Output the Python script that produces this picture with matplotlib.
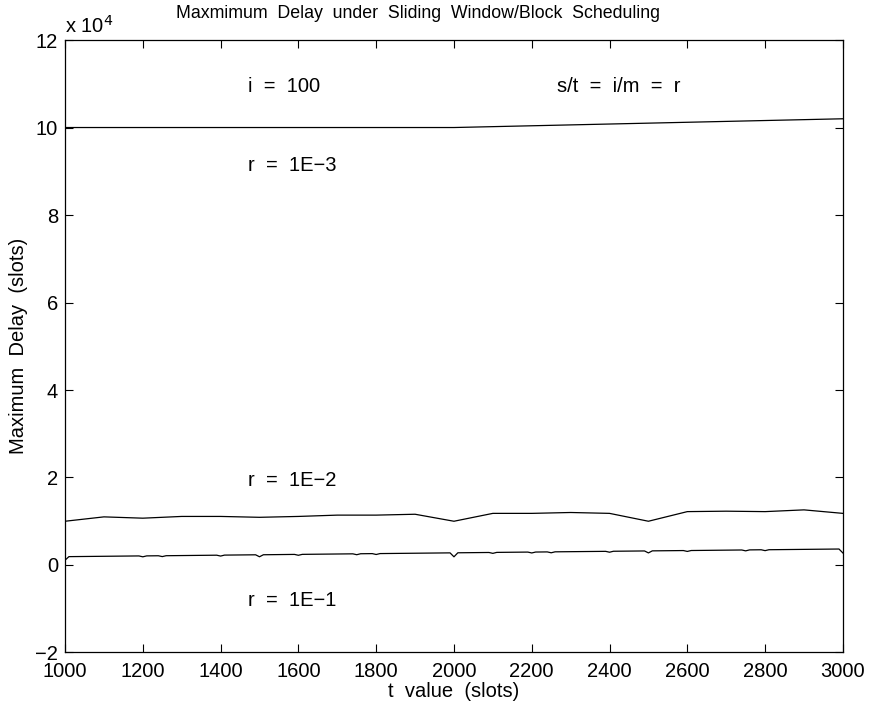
import matplotlib
matplotlib.use("Agg")
import matplotlib.pyplot as plt
from matplotlib.ticker import FuncFormatter, MultipleLocator

plt.rcParams["font.family"] = ["Liberation Sans", "DejaVu Sans"]

# r = 1E-3 : flat to t = 2000, then a slow rise
t_r3 = [1000, 1100, 1200, 1300, 1400, 1500, 1600, 1700, 1800, 1900, 2000,
        2100, 2200, 2300, 2400, 2500, 2600, 2700, 2800, 2900, 3000]
d_r3 = [100000, 100000, 100000, 100000, 100000, 100000, 100000, 100000, 100000, 100000, 100000,
        100200, 100400, 100600, 100800, 101000, 101200, 101400, 101600, 101800, 102000]

# r = 1E-2
t_r2 = [1000, 1100, 1200, 1300, 1400, 1500, 1600, 1700, 1800, 1900, 2000,
        2100, 2200, 2300, 2400, 2500, 2600, 2700, 2800, 2900, 3000]
d_r2 = [10000, 11000, 10700, 11100, 11100, 10900, 11100, 11400, 11400, 11600, 10000,
        11800, 11800, 12000, 11800, 10000, 12200, 12300, 12200, 12600, 11800]

# r = 1E-1 (small dips where the schedule realigns)
t_r1 = [1000, 1010, 1190, 1200, 1210, 1240, 1250, 1260, 1390, 1400, 1410,
        1490, 1500, 1510, 1590, 1600, 1610, 1740, 1750, 1760, 1790, 1800, 1810,
        1990, 2000, 2010, 2090, 2100, 2110, 2190, 2200, 2210, 2240, 2250, 2260,
        2390, 2400, 2410, 2490, 2500, 2510, 2590, 2600, 2610, 2740, 2750, 2760,
        2790, 2800, 2810, 2990, 3000]
d_r1 = [1100, 1910, 2070, 1870, 2080, 2110, 1920, 2120, 2240, 2040, 2260,
        2330, 1880, 2340, 2420, 2220, 2430, 2550, 2350, 2570, 2600, 2400, 2610,
        2770, 1870, 2790, 2860, 2660, 2880, 2950, 2750, 2960, 2990, 2790, 3010,
        3120, 2920, 3140, 3210, 2760, 3230, 3300, 3100, 3310, 3430, 3230, 3450,
        3480, 3280, 3490, 3650, 2750]

fs = 14.5

fig = plt.figure(figsize=(8.73, 7.11), dpi=100)
ax = fig.add_axes([0.0745, 0.0823, 0.891, 0.8614])

for t, d in [(t_r3, d_r3), (t_r2, d_r2), (t_r1, d_r1)]:
    ax.plot(t, d, color="black", linewidth=0.9)

ax.set_xlim(1000, 3000)
ax.set_ylim(-20000, 120000)
ax.xaxis.set_major_locator(MultipleLocator(200))
ax.yaxis.set_major_locator(MultipleLocator(20000))
ax.yaxis.set_major_formatter(FuncFormatter(lambda v, p: f"{v / 1e4:g}".replace("-", "\u2212")))
ax.tick_params(direction="in", top=True, right=True, labelsize=fs, length=5.5, width=0.8)
ax.tick_params(axis="x", pad=6.5)
ax.tick_params(axis="y", pad=5)
for s in ax.spines.values():
    s.set_linewidth(0.9)

ax.set_xlabel("t  value  (slots)", fontsize=fs, labelpad=1)
ax.set_ylabel("Maximum  Delay  (slots)", fontsize=fs, labelpad=5)
ax.text(0.0, 1.006, "x 10$^4$", transform=ax.transAxes, fontsize=fs, ha="left", va="bottom")
fig.text(418 / 873, 1 - 14 / 711, "Maxmimum  Delay  under  Sliding  Window/Block  Scheduling",
         fontsize=12.8, ha="center", va="center")

ax.text(1470, 109400, "i  =  100", fontsize=fs, va="center")
ax.text(2265, 109400, "s/t  =  i/m  =  r", fontsize=fs, va="center")
ax.text(1470, 91400, "r  =  1E\u22123", fontsize=fs, va="center")
ax.text(1470, 19200, "r  =  1E\u22122", fontsize=fs, va="center")
ax.text(1470, -8200, "r  =  1E\u22121", fontsize=fs, va="center")

fig.savefig("out.png", dpi=100)
